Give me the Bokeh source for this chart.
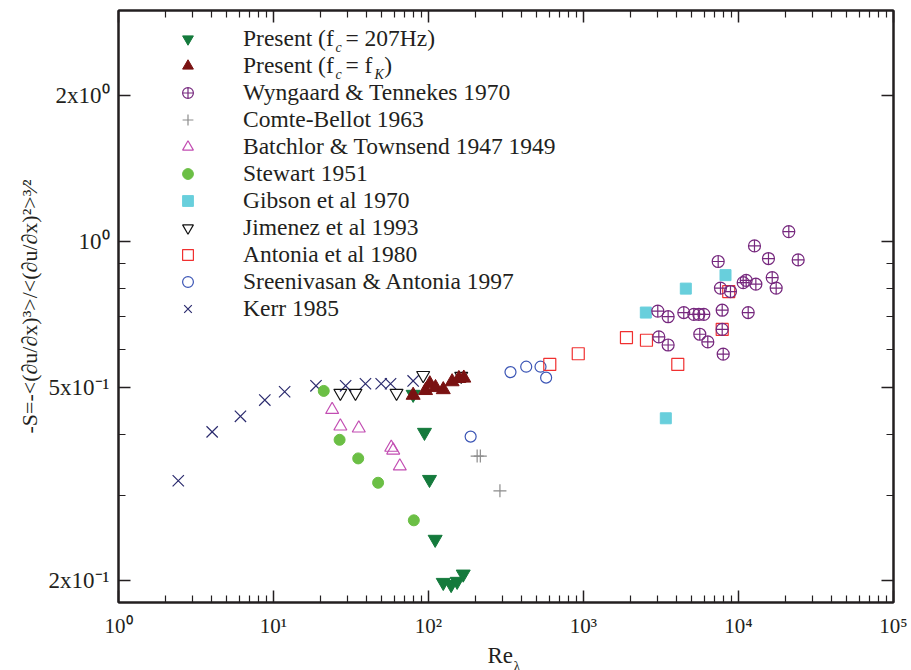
from bokeh.plotting import figure
from bokeh.models import Range1d, LogAxis, FixedTicker, Legend, LegendItem, Label, Title
from bokeh.embed import file_html
from bokeh.resources import INLINE

# Skewness of du/dx against Taylor Reynolds number, per data set
present_207_re = [79.6, 94.2, 101.5, 110.4, 124.5, 140, 153, 167.5]
present_207_s = [0.484, 0.404, 0.323, 0.243, 0.198, 0.196, 0.199, 0.206]

present_fk_re = [79.6, 95.7, 102, 111, 124.5, 142, 157, 169]
present_fk_s = [0.482, 0.493, 0.509, 0.500, 0.495, 0.514, 0.522, 0.523]

wyngaard_re = [3015, 3516, 4436, 5149, 5546, 5975, 3062, 3516, 5627, 6338, 7967,
               7850, 7850, 11550, 7650, 8878, 7395, 10720, 11210, 12940, 12680,
               15610, 16500, 17500, 21110, 24270]
wyngaard_s = [0.719, 0.700, 0.714, 0.708, 0.708, 0.708, 0.636, 0.612, 0.644, 0.621, 0.586,
              0.659, 0.722, 0.714, 0.802, 0.789, 0.910, 0.823, 0.832, 0.817, 0.980,
              0.923, 0.843, 0.802, 1.049, 0.917]

comte_re = [206, 216, 289]
comte_s = [0.361, 0.361, 0.306]

batchelor_re = [23.9, 27.0, 35.5, 57.5, 59.2, 65.3]
batchelor_s = [0.450, 0.416, 0.412, 0.376, 0.371, 0.344]

stewart_re = [21.1, 26.7, 35.2, 47.3, 80.4]
stewart_s = [0.492, 0.390, 0.357, 0.318, 0.266]

gibson_re = [2524, 4571, 8245, 3396]
gibson_s = [0.714, 0.800, 0.853, 0.432]

jimenez_re = [27.0, 33.8, 62.2, 92.4, 162.6]
jimenez_s = [0.487, 0.487, 0.487, 0.530, 0.528]

antonia_re = [606, 925, 1893, 2548, 4058, 8650, 7850]
antonia_s = [0.558, 0.587, 0.634, 0.626, 0.558, 0.789, 0.659]

sreeni_re = [187, 338, 427, 528, 574]
sreeni_s = [0.396, 0.538, 0.552, 0.552, 0.524]

kerr_re = [2.43, 4.02, 6.12, 8.79, 11.8, 18.8, 29.2, 39.2, 49.5, 56.9, 79.6]
kerr_s = [0.321, 0.405, 0.436, 0.471, 0.490, 0.504, 0.504, 0.509, 0.509, 0.509, 0.516]

# Axis ticks and their labels
x_ticks = [1, 10, 100, 1000, 10000, 100000]
x_tick_labels = ["10\u2070", "10\u00b9", "10\u00b2", "10\u00b3", "10\u2074", "10\u2075"]
x_minor = [m * 10 ** k for k in range(5) for m in range(2, 10)]
y_ticks = [0.2, 0.5, 1, 2]
y_tick_labels = ["2x10\u207b\u00b9", "5x10\u207b\u00b9", "10\u2070", "2x10\u2070"]
y_minor = [0.3, 0.4, 0.6, 0.7, 0.8, 0.9]

x_label = "Re\u2002"          # en space keeps room for the subscript
x_label_sub = "\u03bb"
y_label = "-S=-<(\u2202u/\u2202x)\u00b3>/<(\u2202u/\u2202x)\u00b2>\u00b3\u2044\u00b2"

INK = "#231f20"
SERIF = "Liberation Serif"

p = figure(width=911, height=670, x_axis_type="log", y_axis_type="log",
           x_range=Range1d(1, 1e5), y_range=Range1d(0.18, 3.0),
           output_backend="svg", toolbar_location=None,
           min_border_left=118, min_border_right=18, min_border_top=10, min_border_bottom=68)
p.xgrid.visible = False
p.ygrid.visible = False
p.outline_line_color = INK
p.outline_line_width = 2
p.background_fill_color = "white"
p.border_fill_color = "white"

bottom_axis = p.below[0]
left_axis = p.left[0]


def style_axis(ax, ticks, minor, labels, size, standoff):
    ax.ticker = FixedTicker(ticks=ticks, minor_ticks=minor)
    ax.axis_line_color = INK
    ax.axis_line_width = 2
    ax.major_tick_in = 12
    ax.major_tick_out = 0
    ax.minor_tick_in = 7
    ax.minor_tick_out = 0
    ax.major_tick_line_color = INK
    ax.minor_tick_line_color = INK
    ax.major_tick_line_width = 1.5
    ax.minor_tick_line_width = 1.2
    ax.major_label_overrides = {t: s for t, s in zip(ticks, labels)}
    ax.major_label_text_font = SERIF
    ax.major_label_text_font_size = size
    ax.major_label_text_color = INK
    ax.major_label_standoff = standoff


style_axis(bottom_axis, x_ticks, x_minor, x_tick_labels, "21px", 11)
style_axis(left_axis, y_ticks, y_minor, y_tick_labels, "23px", 9)

# mirrored tick marks on the top and right edges, without labels
top_axis = LogAxis()
right_axis = LogAxis()
style_axis(top_axis, x_ticks, x_minor, [""] * len(x_ticks), "1px", 0)
style_axis(right_axis, y_ticks, y_minor, [""] * len(y_ticks), "1px", 0)
p.add_layout(top_axis, "above")
p.add_layout(right_axis, "right")

left_axis.axis_label = y_label
left_axis.axis_label_text_font = SERIF
left_axis.axis_label_text_font_size = "22px"
left_axis.axis_label_text_font_style = "normal"
left_axis.axis_label_text_color = INK
left_axis.axis_label_standoff = 4

bottom_axis.axis_label = x_label
bottom_axis.axis_label_text_font = SERIF
bottom_axis.axis_label_text_font_size = "23px"
bottom_axis.axis_label_text_font_style = "normal"
bottom_axis.axis_label_text_color = INK
bottom_axis.axis_label_standoff = 2

# subscript lambda of the x-axis label
p.add_layout(Title(text=x_label_sub, align="left", offset=395, standoff=-24,
                   vertical_align="top", text_font=SERIF, text_font_size="14px",
                   text_font_style="normal", text_color=INK), "below")

# data sets, lowest layer first
r_kerr = p.scatter(kerr_re, kerr_s, marker="x", size=16, line_color="#2b2b6e", line_width=1.2)
r_jim = p.scatter(jimenez_re, jimenez_s, marker="inverted_triangle", size=13,
                  fill_color=None, line_color="#111111", line_width=1.2)
r_bat = p.scatter(batchelor_re, batchelor_s, marker="triangle", size=13,
                  fill_color=None, line_color="#c24db2", line_width=1.2)
r_com = p.scatter(comte_re, comte_s, marker="cross", size=13, line_color="#8c8c8c", line_width=1.2)
r_sre = p.scatter(sreeni_re, sreeni_s, marker="circle", size=11,
                  fill_color=None, line_color="#3b55b5", line_width=1.2)
r_ant = p.scatter(antonia_re, antonia_s, marker="square", size=12,
                  fill_color=None, line_color="#f03030", line_width=1.2)
r_gib = p.scatter(gibson_re, gibson_s, marker="square", size=11,
                  fill_color="#68cfdc", line_color="#68cfdc")
r_wyn = p.scatter(wyngaard_re, wyngaard_s, marker="circle_cross", size=12,
                  fill_color=None, line_color="#76287e", line_width=1.2)
r_ste = p.scatter(stewart_re, stewart_s, marker="circle", size=11,
                  fill_color="#6bbf45", line_color="#6bbf45")
r_p207 = p.scatter(present_207_re, present_207_s, marker="inverted_triangle", size=14,
                   fill_color="#147a3c", line_color="#147a3c")
r_pfk = p.scatter(present_fk_re, present_fk_s, marker="triangle", size=14,
                  fill_color="#7a1212", line_color="#7a1212")

legend = Legend(items=[
    LegendItem(label="Present (f  = 207Hz)", renderers=[r_p207]),
    LegendItem(label="Present (f  = f  )", renderers=[r_pfk]),
    LegendItem(label="Wyngaard & Tennekes 1970", renderers=[r_wyn]),
    LegendItem(label="Comte-Bellot 1963", renderers=[r_com]),
    LegendItem(label="Batchlor & Townsend 1947 1949", renderers=[r_bat]),
    LegendItem(label="Stewart 1951", renderers=[r_ste]),
    LegendItem(label="Gibson et al 1970", renderers=[r_gib]),
    LegendItem(label="Jimenez et al 1993", renderers=[r_jim]),
    LegendItem(label="Antonia et al 1980", renderers=[r_ant]),
    LegendItem(label="Sreenivasan & Antonia 1997", renderers=[r_sre]),
    LegendItem(label="Kerr 1985", renderers=[r_kerr]),
], location=(54, 280), glyph_width=31, glyph_height=27, label_height=27, spacing=0,
   label_standoff=40, padding=0, margin=0, border_line_color=None,
   background_fill_alpha=0, label_text_font=SERIF, label_text_font_size="23.5px",
   label_text_color=INK)
p.add_layout(legend)

# subscripts in the first two legend entries
sub = dict(x_units="screen", y_units="screen", text_font=SERIF, text_font_size="14px",
           text_font_style="italic", text_color=INK, text_baseline="middle")
p.add_layout(Label(x=217, y=555, text="c", **sub))
p.add_layout(Label(x=217, y=528, text="c", **sub))
p.add_layout(Label(x=256, y=528, text="K", **sub))

open("out.html", "w").write(file_html(p, INLINE))
